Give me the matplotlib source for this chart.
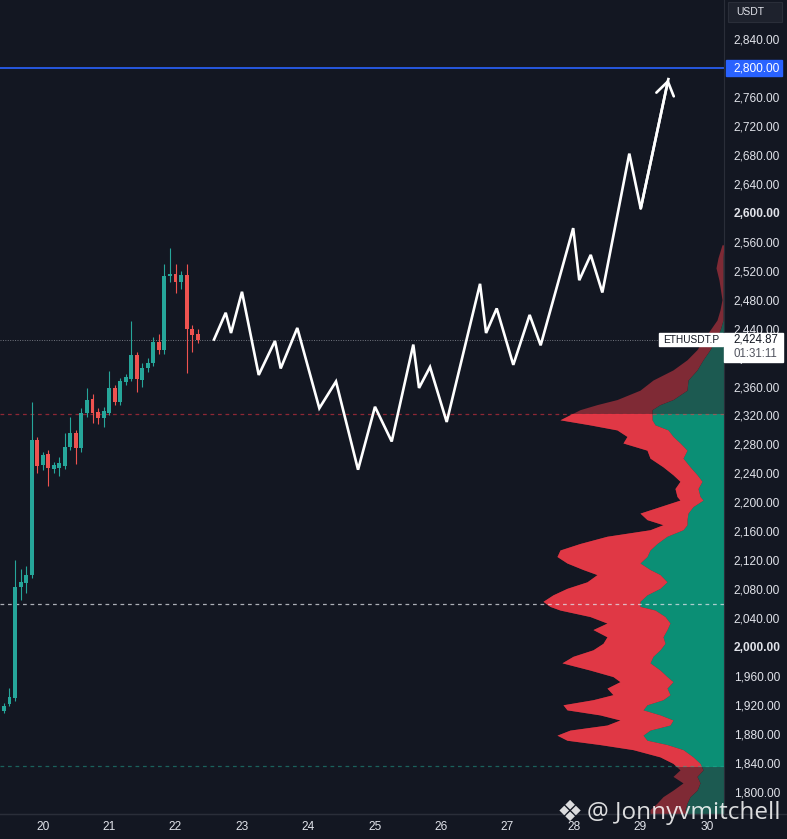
import numpy as np
import matplotlib.pyplot as plt
import matplotlib.transforms as mtrans
from matplotlib.patches import Rectangle
from matplotlib.lines import Line2D

## Styles
BG = '#131722'
FRAME = '#2a2e39'
TXT = '#e1e3ea'
UP = '#26a69a'
DOWN = '#ef5350'
VP_UP = '#0b8f75'
VP_DOWN = '#e03845'
VP_UP_DIM = '#1c5a51'
VP_DOWN_DIM = '#7f2a35'
BLUE = '#2962ff'
plt.rcParams['font.family'] = ['Liberation Sans', 'DejaVu Sans']

## Data - ETHUSDT.P, 2h candles (x = day of month)
first_candle = 19 + 10 / 24
opens  = [1912, 1921, 1929, 2083, 2089, 2100, 2286, 2252, 2267, 2246, 2248, 2250,
          2277, 2296, 2275, 2324, 2343, 2325, 2317, 2324, 2358, 2338, 2366, 2371,
          2403, 2369, 2386, 2393, 2422, 2411, 2513, 2516, 2505, 2514, 2439, 2432]
closes = [1918, 1931, 2083, 2090, 2100, 2286, 2250, 2266, 2248, 2252, 2254, 2277,
          2296, 2275, 2324, 2342, 2323, 2316, 2326, 2358, 2338, 2367, 2373, 2403,
          2370, 2386, 2393, 2422, 2411, 2513, 2516, 2505, 2514, 2439, 2431, 2425]
highs  = [1922, 1943, 2120, 2108, 2112, 2338, 2290, 2270, 2272, 2256, 2262, 2296,
          2318, 2300, 2330, 2358, 2350, 2330, 2332, 2381, 2362, 2372, 2378, 2451,
          2408, 2392, 2400, 2428, 2432, 2530, 2552, 2530, 2520, 2530, 2445, 2440]
lows   = [1908, 1918, 1925, 2065, 2075, 2095, 2240, 2245, 2222, 2240, 2236, 2246,
          2272, 2253, 2270, 2318, 2310, 2308, 2304, 2320, 2334, 2334, 2362, 2368,
          2353, 2360, 2380, 2388, 2405, 2405, 2505, 2490, 2495, 2379, 2408, 2420]

# projected zigzag path
path_days = [22.58, 22.756, 22.836, 23.001, 23.253, 23.498, 23.584, 23.834, 24.166, 24.417,
             24.749, 25.004, 25.256, 25.581, 25.667, 25.833, 26.084, 26.586, 26.677, 26.837,
             27.087, 27.333, 27.499, 27.989, 28.080, 28.253, 28.428, 28.834, 29.006, 29.422]
path_prices = [2425, 2462, 2434, 2491, 2376, 2423, 2385, 2441, 2330, 2367,
               2245, 2332, 2284, 2418, 2358, 2387, 2311, 2502, 2434, 2468,
               2390, 2459, 2417, 2579, 2507, 2542, 2490, 2682, 2606, 2785]

# visible range volume profile
vp_price = [2556, 2538, 2524, 2507, 2480, 2466, 2452, 2438, 2424, 2411, 2397, 2383,
            2369, 2355, 2342, 2335, 2328, 2314, 2307, 2300, 2291, 2282, 2272, 2261,
            2249, 2238, 2229, 2219, 2208, 2203, 2194, 2185, 2176, 2169, 2162, 2153,
            2143, 2134, 2125, 2116, 2107, 2100, 2090, 2081, 2072, 2063, 2056, 2051,
            2042, 2033, 2024, 2014, 2005, 1996, 1987, 1978, 1968, 1959, 1952, 1943,
            1934, 1927, 1920, 1913, 1906, 1899, 1892, 1885, 1878, 1871, 1865, 1858,
            1848, 1839, 1830, 1821, 1812, 1802, 1793, 1784, 1775, 1766]
vp_up = [0, 1, 1, 1, 1, 1, 1, 4, 9, 14, 21, 27,
         36, 37, 51, 64, 72, 72, 69, 56, 51, 44, 37, 41,
         34, 27, 22, 26, 24, 21, 31, 36, 37, 37, 41, 57,
         67, 74, 77, 84, 74, 64, 57, 64, 77, 84, 84, 69,
         59, 54, 57, 61, 59, 64, 71, 74, 64, 57, 51, 57,
         54, 61, 77, 81, 64, 51, 54, 74, 81, 77, 57, 41,
         31, 24, 21, 27, 24, 27, 34, 37, 39, 37]
vp_down = [2, 5, 7, 4, 1, 3, 6, 10, 12, 13, 16, 24,
           35, 47, 56, 63, 72, 92, 65, 51, 46, 57, 40, 33,
           27, 24, 22, 23, 23, 23, 33, 48, 40, 24, 33, 60,
           77, 90, 90, 73, 67, 63, 80, 93, 94, 97, 90, 95,
           75, 63, 74, 56, 62, 67, 80, 88, 70, 54, 53, 60,
           57, 70, 84, 76, 60, 53, 63, 80, 86, 80, 67, 50,
           33, 27, 23, 24, 17, 24, 27, 30, 35, 37]

last_price = 2424.87
target = 2800
vah, poc, val = 2322, 2059, 1836
y_ticks = list(range(1800, 2841, 40))
x_ticks = list(range(20, 31))

## Figure
W, H = 787, 839
fig = plt.figure(figsize=(W / 100, H / 100), dpi=100, facecolor=BG)
ax = fig.add_axes([0, 25 / H, 724 / W, 814 / H])
ax_vp = ax.twiny()
ax.set_zorder(2)
ax_vp.set_zorder(1)
ax.patch.set_visible(False)

ax.set_xlim(19.357, 30.26)
ax.set_ylim(1769, 2894.4)

# volume profile, anchored at the right edge
up = np.array(vp_up)
tot = up + np.array(vp_down)
vp_span = tot.max() * 4
ax_vp.set_xlim(vp_span, 0)
ax_vp.fill_betweenx(vp_price, 0, up, color=VP_UP_DIM, lw=0)
ax_vp.fill_betweenx(vp_price, up, tot, color=VP_DOWN_DIM, lw=0)
clip = Rectangle((0, val), vp_span, vah - val, transform=ax_vp.transData)
for poly in (ax_vp.fill_betweenx(vp_price, 0, up, color=VP_UP, lw=0),
             ax_vp.fill_betweenx(vp_price, up, tot, color=VP_DOWN, lw=0)):
    poly.set_clip_path(clip)
ax_vp.set_xticks([])
ax_vp.tick_params(top=False, labeltop=False)
for s in ax_vp.spines.values():
    s.set_visible(False)

# levels
ax.axhline(target, color=BLUE, lw=1.2, zorder=2)
ax.axhline(vah, color='#f23645', alpha=0.55, lw=0.9, ls=(0, (3, 3)), zorder=1)
ax.axhline(poc, color=TXT, alpha=0.75, lw=0.9, ls=(0, (3, 3)), zorder=1)
ax.axhline(val, color='#22ab94', alpha=0.5, lw=0.9, ls=(0, (3, 3)), zorder=1)
ax.axhline(last_price, color='#b2b5be', alpha=0.6, lw=0.7, ls=(0, (1, 1.5)), zorder=1)

# candles
t = first_candle + np.arange(len(opens)) / 12
o = np.array(opens)
c = np.array(closes)
col = np.where(c >= o, UP, DOWN)
ax.vlines(t, lows, highs, colors=col, lw=0.8, zorder=3)
body = np.where(np.abs(c - o) < 2, 2, c - o)
ax.bar(t, body, bottom=o, width=0.72 / 12, color=col, zorder=4)

# projected path
ax.plot(path_days, path_prices, color='white', lw=1.9, zorder=6, solid_joinstyle='miter')
ax.annotate('', xy=(path_days[-1], path_prices[-1]), xytext=(path_days[-2], path_prices[-2]),
            arrowprops=dict(arrowstyle='->, head_length=0.6, head_width=0.4', lw=1.9,
                            color='white', mutation_scale=16, shrinkA=0, shrinkB=0),
            zorder=6)

# axes
ax.yaxis.tick_right()
ax.set_yticks(y_ticks)
ax.set_yticklabels([f'{v:,.2f}' for v in y_ticks])
ax.tick_params(axis='y', length=0, pad=7, labelsize=8.6, labelcolor=TXT)
for lab, v in zip(ax.get_yticklabels(), y_ticks):
    if v in (2000, 2400, 2600):
        lab.set_fontweight('bold')
ax.set_xticks(x_ticks)
ax.set_xticklabels([str(d) for d in x_ticks])
ax.tick_params(axis='x', length=0, pad=5, labelsize=8.6, labelcolor=TXT)
ax.spines['top'].set_visible(False)
ax.spines['left'].set_visible(False)
ax.spines['right'].set_color(FRAME)
ax.spines['bottom'].set_color(FRAME)
fig.add_artist(Line2D([0, 1], [25 / H, 25 / H], transform=fig.transFigure, color=FRAME, lw=1))

# price labels on the scale
tr = mtrans.blended_transform_factory(ax.transAxes, ax.transData)
ppx = (2894.4 - 1769) / 814  # price per pixel
ax.add_patch(Rectangle((1 + 2 / 724, target - 8 * ppx), 56 / 724, 16 * ppx, transform=tr,
                       color=BLUE, clip_on=False, zorder=10))
ax.text(1 + 9.7 / 724, target, f'{target:,.2f}', transform=tr, color='white', fontsize=8.6,
        ha='left', va='center', zorder=11, clip_on=False)

ax.add_patch(Rectangle((1, last_price - 22 * ppx), 59 / 724, 29 * ppx, transform=tr,
                       color='white', clip_on=False, zorder=10))
ax.text(1 + 9.7 / 724, last_price + 0.5 * ppx, f'{last_price:,.2f}', transform=tr, color=BG,
        fontsize=8.3, ha='left', va='center', zorder=11, clip_on=False)
ax.text(1 + 9.7 / 724, last_price - 14 * ppx, '01:31:11', transform=tr, color='#50535e',
        fontsize=8.3, ha='left', va='center', zorder=11, clip_on=False)

ax.add_patch(Rectangle((659 / 724, last_price - 6.5 * ppx), 64 / 724, 13 * ppx, transform=tr,
                       color='white', clip_on=False, zorder=10))
ax.text(691 / 724, last_price, 'ETHUSDT.P', transform=tr, color=BG, fontsize=7.3,
        ha='center', va='center', zorder=11, clip_on=False)

# currency box
fig.add_artist(Rectangle((728 / W, 1 - 22 / H), 54 / W, 20 / H, transform=fig.transFigure,
                         fc='#1e222d', ec=FRAME, lw=0.8))
fig.text(736 / W, 1 - 12 / H, 'USDT', color=TXT, fontsize=7.5, ha='left', va='center')

# watermark
fig.text(570 / W, 1 - 813 / H, '\u2756', color='white', alpha=0.85, fontsize=21,
         family='DejaVu Sans', ha='center', va='center')
fig.text(587 / W, 1 - 813 / H, '@ Jonnyvmitchell', color='white', alpha=0.85, fontsize=17.5,
         family='Open Sans', ha='left', va='center')

fig.savefig('out.png', dpi=100, facecolor=BG)
